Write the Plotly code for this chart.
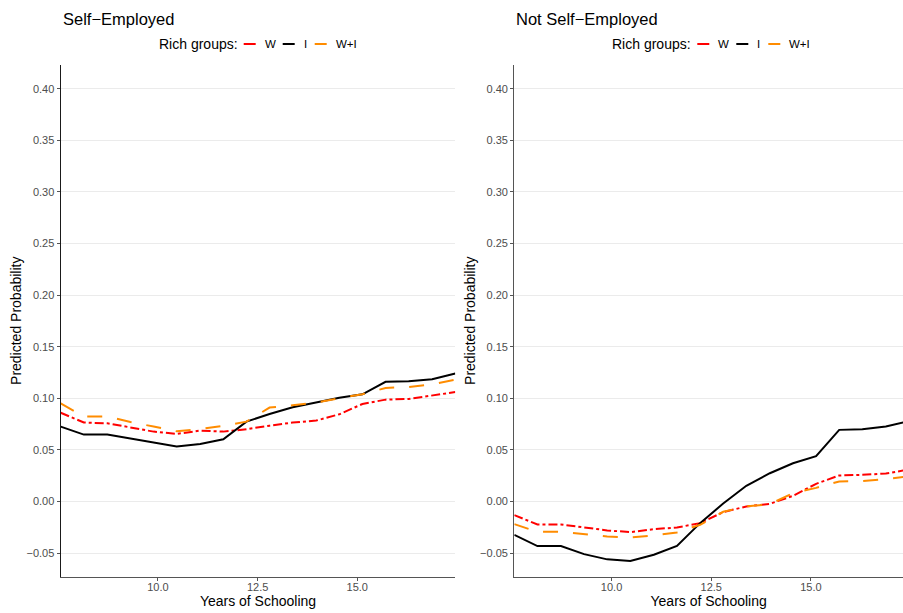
import plotly.graph_objects as go

# ---------------- data ----------------
schooling = [7.56, 8.14, 8.73, 9.31, 9.89, 10.47, 11.06, 11.64, 12.22,
             12.80, 13.38, 13.97, 14.55, 15.13, 15.71, 16.29, 16.88, 17.46]

group_names = ["W", "I", "W+I"]
group_colors = ["#FF0000", "#000000", "#FF8C00"]
group_dashes = ["dashdot", "solid", "longdash"]

# Self-Employed panel
se_W = [0.086, 0.0765, 0.0758, 0.072, 0.0677, 0.0655, 0.0687, 0.0677, 0.070,
        0.0735, 0.0765, 0.0784, 0.0845, 0.0945, 0.0987, 0.0994, 0.1026, 0.106]
se_I = [0.0726, 0.0648, 0.0648, 0.061, 0.0565, 0.0532, 0.0558, 0.0603, 0.0774,
        0.0848, 0.0913, 0.0958, 0.1006, 0.1039, 0.116, 0.1165, 0.1184, 0.124]
se_WI = [0.095, 0.0823, 0.0823, 0.077, 0.0726, 0.068, 0.0703, 0.0732, 0.0774,
         0.091, 0.0932, 0.0958, 0.100, 0.104, 0.110, 0.111, 0.1135, 0.118]

# Not Self-Employed panel
nse_W = [-0.0132, -0.0223, -0.0223, -0.0252, -0.028, -0.0297, -0.0268, -0.0252, -0.021,
         -0.0103, -0.0048, -0.0023, 0.0055, 0.0171, 0.0252, 0.0258, 0.0271, 0.031]
nse_I = [-0.0323, -0.0432, -0.0432, -0.051, -0.0561, -0.0577, -0.0516, -0.043, -0.021,
         -0.002, 0.0152, 0.0274, 0.037, 0.0439, 0.0694, 0.070, 0.0726, 0.078]
nse_WI = [-0.0219, -0.0294, -0.0294, -0.0313, -0.0339, -0.0348, -0.0329, -0.030, -0.0226,
          -0.010, -0.0048, -0.0026, 0.0081, 0.0132, 0.0194, 0.0197, 0.0216, 0.0245]

panel_titles = ["Self\u2212Employed", "Not Self\u2212Employed"]
panel_series = [[se_W, se_I, se_WI], [nse_W, nse_I, nse_WI]]

y_ticks = [-0.05, 0.00, 0.05, 0.10, 0.15, 0.20, 0.25, 0.30, 0.35, 0.40]
y_ticktext = ["\u22120.05", "0.00", "0.05", "0.10", "0.15", "0.20", "0.25", "0.30", "0.35", "0.40"]
x_ticks = [10.0, 12.5, 15.0]
x_ticktext = ["10.0", "12.5", "15.0"]

x_title = "Years of Schooling"
y_title = "Predicted Probability"
legend_title = "Rich groups:"

# ---------------- layout geometry ----------------
W, H = 903, 613
FONT = "Liberation Sans, Arial, Helvetica, sans-serif"
px = lambda v: v / W
py = lambda v: (H - v) / H

plot_top, plot_bottom = 65, 576.5
panels = [
    dict(left=60.7, right=455.3, xrange=[7.56, 17.46], yline="#1a1a1a"),
    dict(left=514.3, right=903, xrange=[7.56, 17.31], yline="#555555"),
]
y_range = [-0.0727, 0.423]

fig = go.Figure()
shapes = []
annotations = []

for p, (pan, title, series) in enumerate(zip(panels, panel_titles, panel_series)):
    xa = "x" if p == 0 else "x2"
    ya = "y" if p == 0 else "y2"
    for name, color, dash, vals in zip(group_names, group_colors, group_dashes, series):
        fig.add_trace(go.Scatter(
            x=schooling, y=vals, mode="lines", name=name, showlegend=False,
            line=dict(color=color, width=2, dash=dash),
            xaxis=xa, yaxis=ya, cliponaxis=True,
        ))
    axis_common = dict(zeroline=False, ticks="outside", ticklen=3,
                       tickwidth=1, tickcolor="#555555",
                       tickfont=dict(family=FONT, size=11, color="#4D4D4D"),
                       showline=True, linewidth=1.3)
    xkey = "xaxis" if p == 0 else "xaxis2"
    ykey = "yaxis" if p == 0 else "yaxis2"
    fig.layout[xkey] = dict(
        domain=[px(pan["left"]), px(pan["right"])], range=pan["xrange"],
        anchor=ya, tickvals=x_ticks, ticktext=x_ticktext, linecolor="#555555",
        showgrid=False, ticklabelstandoff=-3,
        title=dict(text=x_title, font=dict(family=FONT, size=14, color="#000000"), standoff=3),
        **axis_common)
    fig.layout[ykey] = dict(
        domain=[py(plot_bottom), py(plot_top)], range=y_range, anchor=xa,
        tickvals=y_ticks, ticktext=y_ticktext, linecolor=pan["yline"],
        showgrid=True, gridcolor="#EBEBEB", gridwidth=1,
        title=dict(text=y_title, font=dict(family=FONT, size=14, color="#000000"), standoff=1),
        **axis_common)

    # panel title
    annotations.append(dict(text=title, x=px(pan["left"]), y=py(19), xref="paper", yref="paper",
                            xanchor="left", yanchor="middle", showarrow=False,
                            font=dict(family=FONT, size=16.5, color="#000000")))
    # manual legend
    lx = pan["left"] + 96
    ly = 44
    annotations.append(dict(text=legend_title, x=px(lx), y=py(ly), xref="paper", yref="paper",
                            xanchor="left", yanchor="middle", showarrow=False,
                            font=dict(family=FONT, size=14, color="#000000")))
    key_x = lx + 87
    label_widths = [11, 4, 21]
    for name, color, lw in zip(group_names, group_colors, label_widths):
        shapes.append(dict(type="line", xref="paper", yref="paper",
                           x0=px(key_x), x1=px(key_x + 12), y0=py(ly), y1=py(ly),
                           line=dict(color=color, width=2)))
        annotations.append(dict(text=name, x=px(key_x + 19), y=py(ly), xref="paper", yref="paper",
                                xanchor="left", yanchor="middle", showarrow=False,
                                font=dict(family=FONT, size=11.5, color="#000000")))
        key_x += 19 + lw + 9

fig.update_layout(
    width=W, height=H, margin=dict(l=0, r=0, t=0, b=0),
    plot_bgcolor="#FFFFFF", paper_bgcolor="#FFFFFF",
    shapes=shapes, annotations=annotations, showlegend=False,
    font=dict(family=FONT),
)

fig.write_html("out.html", config={"displayModeBar": False},
               post_script="document.body.style.margin='0';document.body.style.overflow='hidden';")
